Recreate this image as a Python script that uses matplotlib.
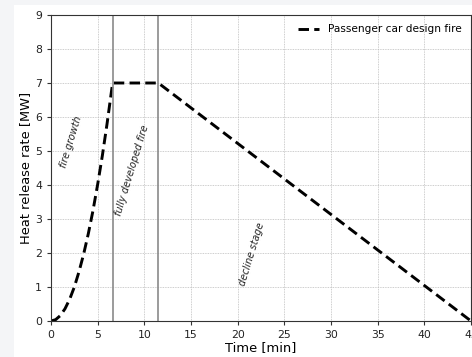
import matplotlib.pyplot as plt
from matplotlib.patches import Rectangle

# design fire curve
time_min = [0, 0.5, 1, 1.5, 2, 2.5, 3, 3.5, 4, 4.5, 5, 5.5, 6, 6.6, 11.5, 45]
hrr_mw = [0, 0.04, 0.16, 0.36, 0.64, 1.0, 1.45, 1.97, 2.57, 3.25, 4.02, 4.86, 5.79, 7.0, 7.0, 0]

# stage boundaries
stage_lines = [6.6, 11.5]

# stage labels
stage_names = ["fire growth", "fully developed fire", "decline stage"]
stage_x = [2.2, 8.7, 21.5]
stage_y = [5.28, 4.44, 1.96]

fig = plt.figure(figsize=(4.72, 3.57), dpi=100, facecolor="#f4f5f7")
fig.patches.append(Rectangle((14 / 472, 0), 1, 1 - 5 / 357, transform=fig.transFigure,
                             facecolor="white", edgecolor="none", zorder=-10))
ax = fig.add_axes([51 / 472, 1 - 321 / 357, 420 / 472, 306 / 357])

ax.plot(time_min, hrr_mw, color="k", linestyle=(0, (3.6, 1.8)), linewidth=2.1,
        label="Passenger car design fire")
for x in stage_lines:
    ax.axvline(x, color="#8a8a8a", linewidth=1.2)

for name, x, y in zip(stage_names, stage_x, stage_y):
    ax.text(x, y, name, rotation=73, fontsize=7, style="italic",
            ha="center", va="center", color="#222222")

ax.set_xlim(0, 45)
ax.set_ylim(0, 9)
ax.set_xticks(range(0, 50, 5))
ax.set_yticks(range(0, 10))
ax.tick_params(labelsize=7.8, length=3, colors="#333333", labelcolor="#222222")
for s in ax.spines.values():
    s.set_color("#333333")
ax.grid(color="#bdbdbd", linestyle=(0, (1, 1)), linewidth=0.6)

ax.set_xlabel("Time [min]", fontsize=9.4, labelpad=1)
ax.set_ylabel("Heat release rate [MW]", fontsize=9.4, labelpad=2)
ax.legend(loc="upper right", frameon=False, fontsize=7.6)

plt.savefig("out.png", dpi=100, facecolor=fig.get_facecolor())
